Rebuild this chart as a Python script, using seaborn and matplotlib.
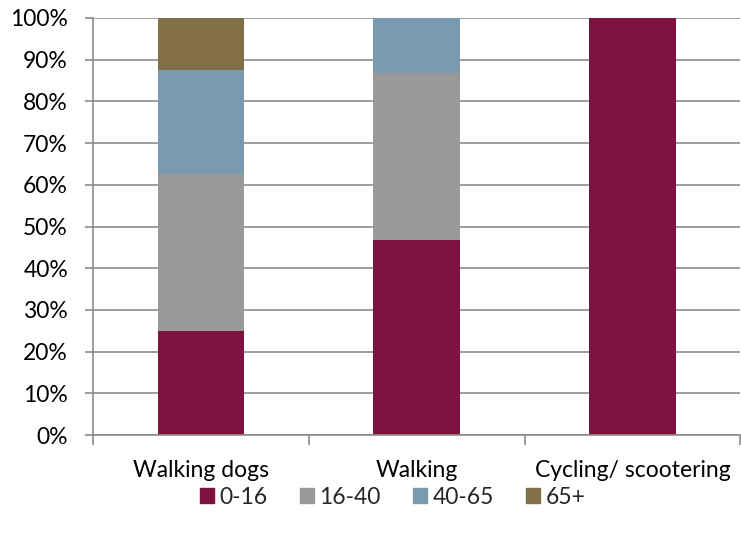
import matplotlib
matplotlib.use("Agg")
import matplotlib.pyplot as plt
import seaborn as sns
import numpy as np
import pandas as pd
from matplotlib.ticker import FixedLocator, PercentFormatter

categories = ["Walking dogs", "Walking", "Cycling/ scootering"]
series = ["0-16", "16-40", "40-65", "65+"]
v_0_16 = [25.0, 46.7, 100.0]
v_16_40 = [37.5, 40.0, 0.0]
v_40_65 = [25.0, 13.3, 0.0]
v_65 = [12.5, 0.0, 0.0]
colors = ["#7E1340", "#999999", "#7A9AAF", "#827048"]

sns.set_theme(style="white")
plt.rcParams['font.family'] = ['Lato', 'DejaVu Sans']

FS = 16.5
fig = plt.figure(figsize=(7.41, 5.35), dpi=100)
ax = fig.add_axes([93/741, 1-435/535, (741-93)/741 - 0.001, (435-18)/535])

vals = [v_0_16, v_16_40, v_40_65, v_65]
bottom = np.zeros(len(categories))
for name, v, c in zip(series, vals, colors):
    df = pd.DataFrame({"cat": categories, "val": v})
    sns.barplot(data=df, x="cat", y="val", color=c, width=0.4, bottom=bottom,
                ax=ax, label=name, saturation=1, edgecolor=c, linewidth=0)
    bottom = bottom + np.array(v)

ax.set_ylim(0, 100)
ax.set_xlim(-0.5, 2.5)
ax.set_yticks(np.arange(0, 101, 10))
ax.yaxis.set_major_formatter(PercentFormatter(decimals=0))
ax.yaxis.grid(True, color="#8c8c8c", linewidth=1.2)
ax.set_axisbelow(True)
ax.set_xlabel("")
ax.set_ylabel("")
for s in ["top", "right"]:
    ax.spines[s].set_visible(False)
ax.spines["left"].set_color("#8c8c8c")
ax.spines["bottom"].set_color("#8c8c8c")
ax.spines["left"].set_linewidth(1.2)
ax.spines["bottom"].set_linewidth(1.2)

ax.xaxis.set_major_locator(FixedLocator([0, 1, 2]))
ax.set_xticklabels(categories)
ax.xaxis.set_minor_locator(FixedLocator([-0.5, 0.5, 1.5, 2.5]))
ax.tick_params(axis="x", which="major", length=0, pad=18, labelsize=FS, labelcolor="#000000")
ax.tick_params(axis="x", which="minor", length=7, width=1.2, color="#8c8c8c", direction="out", bottom=True)
ax.tick_params(axis="y", length=6, width=1.2, color="#8c8c8c", direction="out", left=True, labelsize=FS, labelcolor="#000000", pad=12)

handles = [plt.Rectangle((0, 0), 1, 1, color=c) for c in colors]
fig.legend(handles, series, loc="center", bbox_to_anchor=(0.53, 1-497/535), ncol=4,
           frameon=False, fontsize=FS, handlelength=0.6, handleheight=0.6,
           handletextpad=0.25, columnspacing=1.4)
if ax.get_legend():
    ax.get_legend().remove()

fig.savefig("out.png", dpi=100)
